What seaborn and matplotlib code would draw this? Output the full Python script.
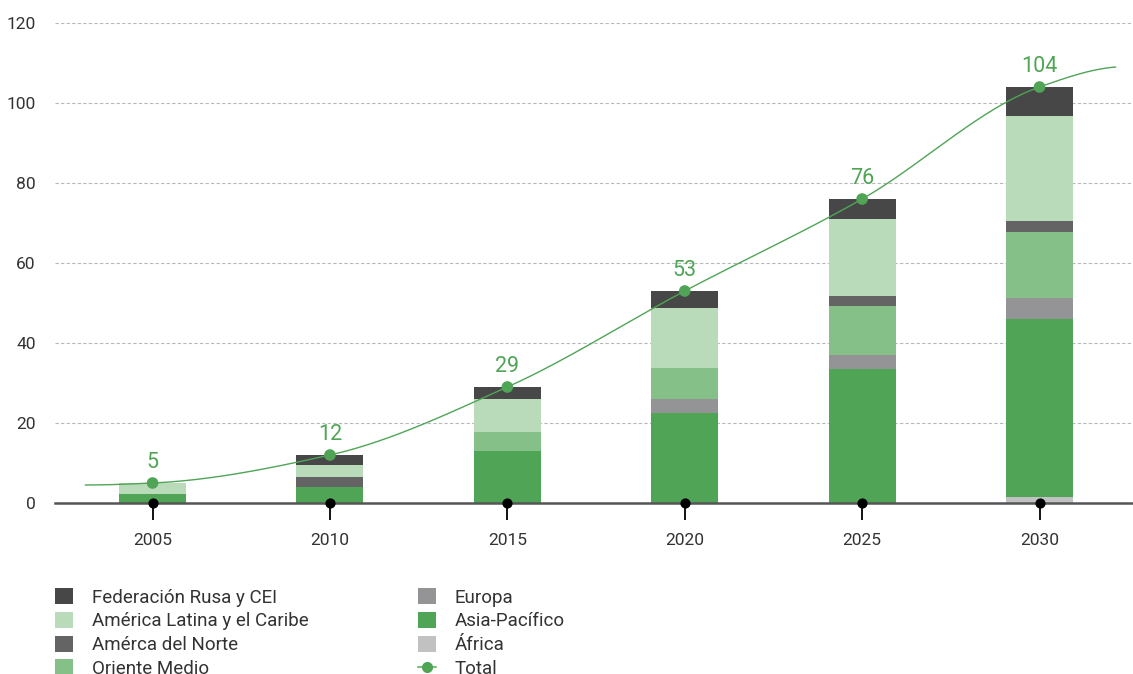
import numpy as np
import pandas as pd
import matplotlib
matplotlib.use("Agg")
import matplotlib.pyplot as plt
from matplotlib.patches import Patch
from matplotlib.lines import Line2D
import seaborn as sns

# --- data -------------------------------------------------------------
years = ["2005", "2010", "2015", "2020", "2025", "2030"]
africa = [0, 0, 0, 0, 0, 1.5]
asia_pacifico = [2.25, 4, 13, 22.5, 33.5, 44.5]
europa = [0, 0, 0, 3.5, 3.5, 5.25]
oriente_medio = [0, 0, 4.75, 7.75, 12.25, 16.5]
america_norte = [0, 2.5, 0, 0, 2.5, 2.75]
america_latina = [2.75, 3, 8.25, 15, 19.25, 26.25]
federacion_rusa = [0, 2.5, 3, 4.25, 5, 7.25]
totals = [5, 12, 29, 53, 76, 104]
# ends of the trend curve beyond the first and last year
curve_head = (-0.38, 4.5)
curve_tail = (5.43, 109)

series = [
    ("África", africa, "#c1c1c2"),
    ("Asia-Pacífico", asia_pacifico, "#50a456"),
    ("Europa", europa, "#949497"),
    ("Oriente Medio", oriente_medio, "#84c087"),
    ("Amérca del Norte", america_norte, "#646465"),
    ("América Latina y el Caribe", america_latina, "#b9dbba"),
    ("Federación Rusa y CEI", federacion_rusa, "#474748"),
]

GREEN = "#50a456"
TXT = "#333333"

sns.set_theme(style="white")
plt.rcParams["font.family"] = ["Liberation Sans Narrow", "Roboto", "DejaVu Sans"]

fig = plt.figure(figsize=(11.33, 6.74), dpi=100)
ax = fig.add_axes([55 / 1133, 1 - 503 / 674, 1 - 55 / 1133, 480 / 674])

# stacked bars: draw cumulative heights, tallest first
cum = np.zeros(len(years))
cums = []
for name, vals, col in series:
    cum = cum + np.array(vals, dtype=float)
    cums.append((name, cum.copy(), col))
for name, c, col in reversed(cums):
    sns.barplot(x=years, y=c, color=col, width=0.378, ax=ax,
                saturation=1, linewidth=0, zorder=2)


def pchip(xk, yk, xs):
    xk = np.asarray(xk, float)
    yk = np.asarray(yk, float)
    h = np.diff(xk)
    d = np.diff(yk) / h
    m = np.zeros_like(yk)
    for i in range(1, len(xk) - 1):
        if d[i - 1] * d[i] > 0:
            w1 = 2 * h[i] + h[i - 1]
            w2 = h[i] + 2 * h[i - 1]
            m[i] = (w1 + w2) / (w1 / d[i - 1] + w2 / d[i])
    m[0] = 0.0
    m[-1] = d[-1] * 0.3
    out = np.empty_like(xs)
    for j, x in enumerate(xs):
        i = min(np.searchsorted(xk, x) - 1, len(xk) - 2)
        i = max(i, 0)
        t = (x - xk[i]) / h[i]
        h00 = 2 * t**3 - 3 * t**2 + 1
        h10 = t**3 - 2 * t**2 + t
        h01 = -2 * t**3 + 3 * t**2
        h11 = t**3 - t**2
        out[j] = h00 * yk[i] + h10 * h[i] * m[i] + h01 * yk[i + 1] + h11 * h[i] * m[i + 1]
    return out


xk = [curve_head[0]] + list(range(len(years))) + [curve_tail[0]]
yk = [curve_head[1]] + totals + [curve_tail[1]]
xs = np.linspace(xk[0], xk[-1], 600)
ax.plot(xs, pchip(xk, yk, xs), color=GREEN, lw=1.0, zorder=4)
sns.scatterplot(x=np.arange(len(years)), y=totals, color=GREEN, s=70,
                edgecolor="none", ax=ax, zorder=5)

for i, t in enumerate(totals):
    ax.text(i, t + 5.2, str(t), ha="center", va="center", color=GREEN,
            fontsize=15.5, zorder=6)

# axes styling
ax.set_xlim(-0.55, 5.527)
ax.set_ylim(0, 120)
ax.set_yticks(range(0, 121, 20))
ax.yaxis.grid(True, linestyle=(0, (3, 2)), color="#b8b8b8", lw=0.8)
ax.set_axisbelow(True)
for s in ["top", "right", "left"]:
    ax.spines[s].set_visible(False)
ax.spines["bottom"].set_color("#555555")
ax.spines["bottom"].set_linewidth(1.8)
ax.spines["bottom"].set_zorder(7)
ax.tick_params(axis="y", left=False, length=0, pad=14, labelsize=12.5,
               labelcolor=TXT)
ax.tick_params(axis="x", bottom=True, length=12.5, width=1.3, color="black",
               direction="out", pad=9, labelsize=12.5, labelcolor=TXT)
ax.set_xlabel("")
ax.set_ylabel("")
ax.scatter(np.arange(len(years)), np.zeros(len(years)), s=40, color="black",
           zorder=8, clip_on=False)

# legend in two columns
handles = {name: Patch(facecolor=col, edgecolor="none") for name, _, col in series}
left_names = ["Federación Rusa y CEI", "América Latina y el Caribe",
              "Amérca del Norte", "Oriente Medio"]
right_names = ["Europa", "Asia-Pacífico", "África"]
total_handle = Line2D([0], [0], color="#7cbf80", lw=1.5, marker="o",
                      markersize=7, markerfacecolor=GREEN, markeredgecolor=GREEN)
kw = dict(frameon=False, fontsize=13.5, handlelength=0.95, handleheight=0.95,
          handletextpad=1.0, labelspacing=0.28, borderpad=0, borderaxespad=0,
          labelcolor=TXT, loc="upper left")
leg1 = fig.legend([handles[n] for n in left_names], left_names,
                  bbox_to_anchor=(55 / 1133, 1 - 588 / 674), **kw)
leg2 = fig.legend([handles[n] for n in right_names] + [total_handle],
                  right_names + ["Total"],
                  bbox_to_anchor=(418 / 1133, 1 - 588 / 674), **kw)

fig.savefig("out.png", dpi=100)
